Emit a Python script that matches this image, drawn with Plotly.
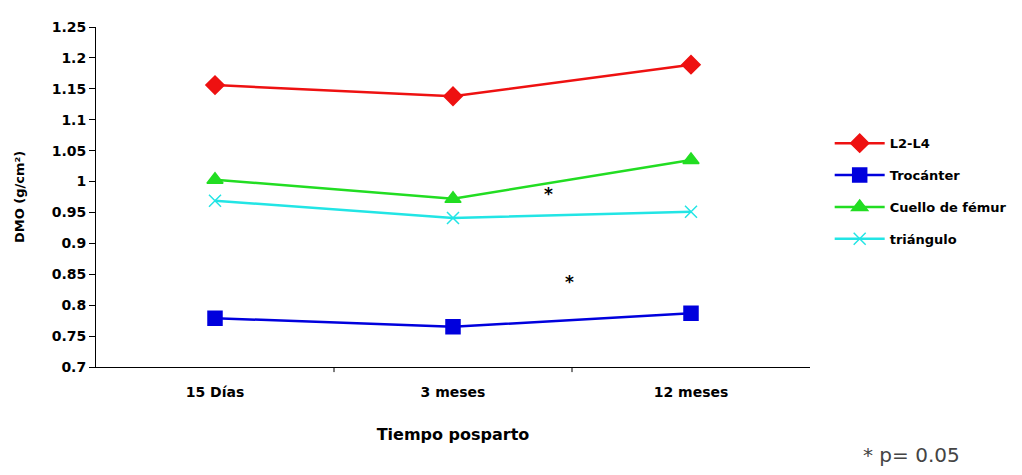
import plotly.graph_objects as go

categories = ["15 Días", "3 meses", "12 meses"]
l2l4 = [1.156, 1.138, 1.189]
trocanter = [0.779, 0.765, 0.787]
cuello = [1.003, 0.972, 1.035]
triangulo = [0.969, 0.941, 0.951]
y_ticks = [0.7, 0.75, 0.8, 0.85, 0.9, 0.95, 1, 1.05, 1.1, 1.15, 1.2, 1.25]
y_tick_text = ["0.7", "0.75", "0.8", "0.85", "0.9", "0.95", "1", "1.05", "1.1", "1.15", "1.2", "1.25"]
asterisks_x = [1.40, 1.49]
asterisks_y = [0.980, 0.838]

FONT = "DejaVu Sans, Liberation Sans, Arial, sans-serif"

fig = go.Figure()
series = [
    ("L2-L4", l2l4, "#ee1111", "diamond", 14),
    ("Trocánter", trocanter, "#0000dd", "square", 14),
    ("Cuello de fémur", cuello, "#22dd22", "triangle-up", 14),
    ("triángulo", triangulo, "#22e5e5", "x-thin", 12),
]
for i, (name, vals, color, sym, size) in enumerate(series):
    fig.add_trace(go.Scatter(
        x=[0, 1, 2], y=vals, name=name, mode="lines+markers",
        legendgroup=f"g{i}",
        line=dict(color=color, width=2.5),
        marker=dict(symbol=sym, size=size, color=color,
                    line=dict(color=color, width=1.5)),
    ))

for ax, ay in zip(asterisks_x, asterisks_y):
    fig.add_annotation(x=ax, y=ay, text="*", showarrow=False,
                       font=dict(family="DejaVu Sans, Arial", size=17, color="black", weight="bold"))

fig.add_annotation(xref="paper", yref="paper", x=1.072, y=-0.26, xanchor="left", yanchor="middle",
                   text="* p= 0.05", showarrow=False,
                   font=dict(family="DejaVu Sans, Arial", size=20, color="#444444"))

fig.update_layout(
    width=1022, height=475,
    margin=dict(l=88, r=220, t=19, b=116, autoexpand=False),
    paper_bgcolor="white", plot_bgcolor="white",
    font=dict(family=FONT, size=12, color="black"),
    showlegend=True,
    legend=dict(xref="container", yref="container", x=0.804, y=0.747,
                xanchor="left", yanchor="top",
                font=dict(family=FONT, size=13, color="black", weight="bold"),
                tracegroupgap=12, itemwidth=50, bgcolor="rgba(0,0,0,0)"),
    xaxis=dict(
        range=[-0.5, 2.5], tickmode="array", tickvals=[0, 1, 2], ticktext=categories,
        showline=True, linecolor="black", linewidth=1, showgrid=False, zeroline=False,
        ticks="", ticklabelstandoff=12,
        tickfont=dict(family=FONT, size=14, color="black", weight="bold"),
        title=dict(text="Tiempo posparto", standoff=30,
                   font=dict(family=FONT, size=16, color="black", weight="bold")),
    ),
    yaxis=dict(
        range=[0.7, 1.25], tickmode="array", tickvals=y_ticks, ticktext=y_tick_text,
        showline=True, linecolor="black", linewidth=1, showgrid=False, zeroline=False,
        ticks="outside", ticklen=6, tickcolor="black",
        tickfont=dict(family=FONT, size=14, color="black", weight="bold"),
        title=dict(text="DMO (g/cm²)", standoff=24,
                   font=dict(family=FONT, size=13, color="black", weight="bold")),
    ),
)

# category boundary ticks on x axis
for b in [0.5, 1.5]:
    fig.add_shape(type="line", xref="x", yref="paper", x0=b, x1=b, y0=0, y1=-0.015,
                  line=dict(color="black", width=1))

fig.write_html("out.html")
